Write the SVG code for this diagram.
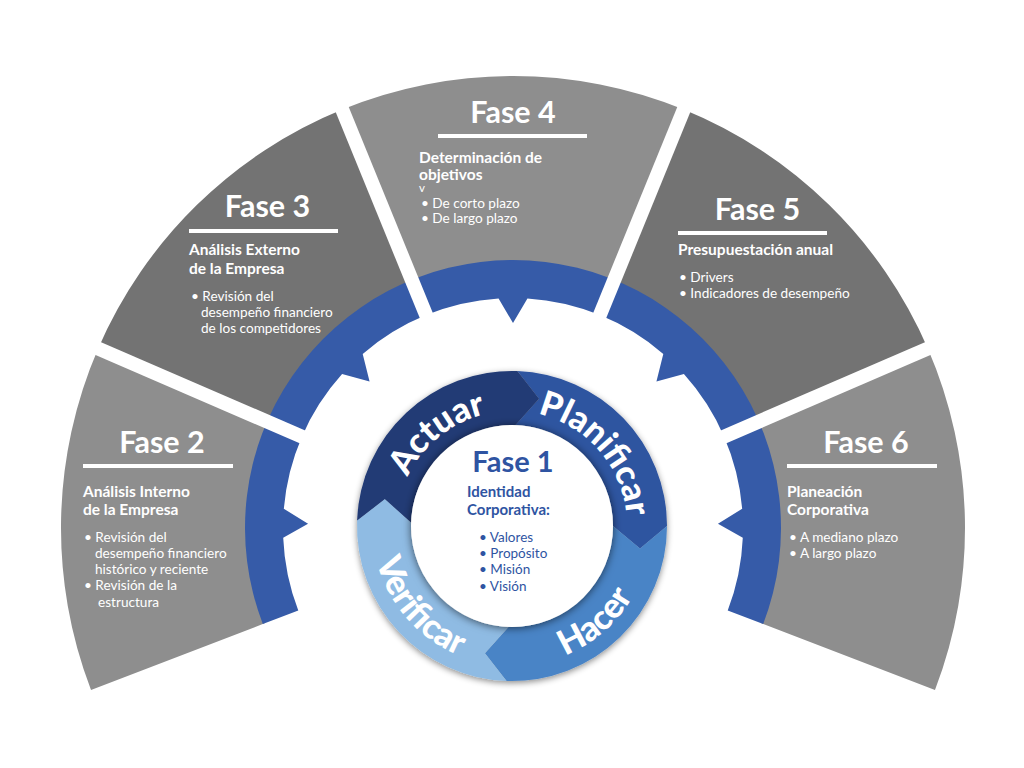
<svg xmlns="http://www.w3.org/2000/svg" width="1024" height="768" viewBox="0 0 1024 768">
<defs>
<style>
.gl{fill:#8e8e8e}
.gd{fill:#737373}
.ring{fill:#365ba8}
.gap{stroke:#fff;stroke-width:14;fill:none}
.ttl{font-family:Lato,"Noto Sans",sans-serif;font-weight:700;font-size:30.5px;fill:#fff;text-anchor:middle}
.sub{font-family:Lato,"Noto Sans",sans-serif;font-weight:700;font-size:15.5px;fill:#fff}
.bul{font-family:Lato,"Noto Sans",sans-serif;font-weight:400;font-size:13.6px;fill:#fff}
.bar{fill:#fff}
.pd{font-family:Lato,"Noto Sans",sans-serif;font-weight:900;font-size:34.5px;fill:#fff}
.in{font-family:Lato,"Noto Sans",sans-serif;fill:#2f54a2}
</style>
<filter id="sh" x="-20%" y="-20%" width="140%" height="140%">
<feDropShadow dx="0" dy="2" stdDeviation="3" flood-color="#000" flood-opacity="0.45"/>
</filter>
<filter id="sh2" x="-30%" y="-30%" width="160%" height="160%">
<feDropShadow dx="0" dy="1" stdDeviation="4" flood-color="#000" flood-opacity="0.6"/>
</filter>
<path id="pA" d="M 416.66,590.31 A 115 115 0 0 1 594.72,446.11"/>
<path id="pP" d="M 444.40,432.96 A 115 115 0 0 1 594.72,605.89"/>
<path id="pH" d="M 414.75,626.71 A 140 140 0 0 0 625.26,443.71"/>
<path id="pV" d="M 411.29,428.75 A 140 140 0 0 0 594.29,639.26"/>
</defs>
<rect width="1024" height="768" fill="#fff"/>

<g id="fase2">
<path class="gl" d="M 91.02,690 A 452 452 0 0 1 98.18,348.49 L 268.88,422.36 A 266 266 0 0 0 264.67,623.33 Z"/>
<text class="ttl" x="162" y="453">Fase 2</text>
<rect class="bar" x="83" y="464" width="150" height="4"/>
<text class="sub" x="83" y="497">Análisis Interno</text>
<text class="sub" x="83" y="515">de la Empresa</text>
<text class="bul" x="84" y="542">• Revisión del</text>
<text class="bul" x="95" y="558">desempeño financiero</text>
<text class="bul" x="95" y="574">histórico y reciente</text>
<text class="bul" x="84" y="590">• Revisión de la</text>
<text class="bul" x="98" y="607">estructura</text>
</g>

<g id="fase3">
<path class="gd" d="M 98.18,348.49 A 452 452 0 0 1 342.22,109.51 L 412.49,281.72 A 266 266 0 0 0 268.88,422.36 Z"/>
<text class="ttl" x="267.5" y="217">Fase 3</text>
<rect class="bar" x="189" y="229" width="149" height="4"/>
<text class="sub" x="189" y="255">Análisis Externo</text>
<text class="sub" x="189" y="274">de la Empresa</text>
<text class="bul" x="191" y="301">• Revisión del</text>
<text class="bul" x="201" y="317">desempeño financiero</text>
<text class="bul" x="201" y="333">de los competidores</text>
</g>

<g id="fase4">
<path class="gl" d="M 342.22,109.51 A 452 452 0 0 1 683.78,109.51 L 613.51,281.72 A 266 266 0 0 0 412.49,281.72 Z"/>
<text class="ttl" x="513" y="123">Fase 4</text>
<rect class="bar" x="438" y="134" width="149" height="4"/>
<text class="sub" x="419" y="163">Determinación de</text>
<text class="sub" x="419" y="180">objetivos</text>
<text class="bul" x="419" y="192" style="font-size:11.5px">v</text>
<text class="bul" x="421" y="208">• De corto plazo</text>
<text class="bul" x="421" y="223">• De largo plazo</text>
</g>

<g id="fase5">
<path class="gd" d="M 683.78,109.51 A 452 452 0 0 1 927.82,348.49 L 757.12,422.36 A 266 266 0 0 0 613.51,281.72 Z"/>
<text class="ttl" x="757.5" y="220">Fase 5</text>
<rect class="bar" x="678" y="231" width="149" height="4"/>
<text class="sub" x="678" y="255">Presupuestación anual</text>
<text class="bul" x="679" y="282">• Drivers</text>
<text class="bul" x="679" y="298">• Indicadores de desempeño</text>
</g>

<g id="fase6">
<path class="gl" d="M 927.82,348.49 A 452 452 0 0 1 934.98,690 L 761.33,623.33 A 266 266 0 0 0 757.12,422.36 Z"/>
<text class="ttl" x="866" y="453">Fase 6</text>
<rect class="bar" x="787" y="464" width="150" height="4"/>
<text class="sub" x="787" y="497">Planeación</text>
<text class="sub" x="787" y="515">Corporativa</text>
<text class="bul" x="789" y="542">• A mediano plazo</text>
<text class="bul" x="789" y="558">• A largo plazo</text>
</g>

<g id="anillo">
<path class="ring" d="M 262.80,624.04 A 268 268 0 1 1 763.20,624.04 L 727.72,610.43 A 230 230 0 0 0 742.80,537.63 L 717.96,523.71 L 742.19,508.75 A 230 230 0 0 0 683.92,374.10 L 656.43,381.53 L 663.29,353.89 A 230 230 0 0 0 527.44,298.45 L 513,323 L 498.56,298.45 A 230 230 0 0 0 362.71,353.89 L 369.57,381.53 L 342.08,374.10 A 230 230 0 0 0 283.81,508.75 L 308.04,523.71 L 283.20,537.63 A 230 230 0 0 0 298.28,610.43 Z"/>
</g>

<g id="separadores">
<line class="gap" x1="315.68" y1="442.61" x2="90.83" y2="345.31"/>
<line class="gap" x1="431.76" y1="328.94" x2="339.19" y2="102.10"/>
<line class="gap" x1="594.24" y1="328.94" x2="686.81" y2="102.10"/>
<line class="gap" x1="710.32" y1="442.61" x2="935.17" y2="345.31"/>
</g>

<g id="connectors"></g>

<g id="ciclo">
<g filter="url(#sh)">
<path id="planificar" fill="#2e54a0" d="M 517.41,371.09 A 155 155 0 0 1 667,526 L 640.03,548.57 L 613,526 A 101 101 0 0 0 515.52,425.06 L 539.03,398.84 Z"/>
<path id="hacer" fill="#4a84c6" d="M 667,526 A 155 155 0 0 1 506.59,680.91 L 484.97,653.16 L 508.48,626.94 A 101 101 0 0 0 613,526 L 640.03,548.57 Z"/>
<path id="verificar" fill="#8fbbe3" d="M 506.59,680.91 A 155 155 0 0 1 357.09,520.59 L 384.84,498.97 L 411.06,522.47 A 101 101 0 0 0 508.48,626.94 L 484.97,653.16 Z"/>
<path id="actuar" fill="#213a75" d="M 357.09,520.59 A 155 155 0 0 1 517.41,371.09 L 539.03,398.84 L 515.52,425.06 A 101 101 0 0 0 411.06,522.47 L 384.84,498.97 Z"/>
</g>
<text class="pd"><textPath href="#pA" startOffset="50%" text-anchor="middle">Actuar</textPath></text>
<text class="pd"><textPath href="#pP" startOffset="50%" text-anchor="middle">Planificar</textPath></text>
<text class="pd"><textPath href="#pH" startOffset="50%" text-anchor="middle">Hacer</textPath></text>
<text class="pd"><textPath href="#pV" startOffset="50%" text-anchor="middle">Verificar</textPath></text>
</g>

<g id="fase1">
<circle cx="512" cy="526" r="101" fill="#fff" filter="url(#sh2)"/>
<text class="in" x="513" y="472" style="font-size:29px;font-weight:700;text-anchor:middle">Fase 1</text>
<text class="in" x="467" y="497" style="font-size:15px;font-weight:700">Identidad</text>
<text class="in" x="467" y="515" style="font-size:15px;font-weight:700">Corporativa:</text>
<text class="in" x="479" y="542" style="font-size:13.5px">• Valores</text>
<text class="in" x="479" y="558" style="font-size:13.5px">• Propósito</text>
<text class="in" x="479" y="574" style="font-size:13.5px">• Misión</text>
<text class="in" x="479" y="591" style="font-size:13.5px">• Visión</text>
</g>
</svg>
